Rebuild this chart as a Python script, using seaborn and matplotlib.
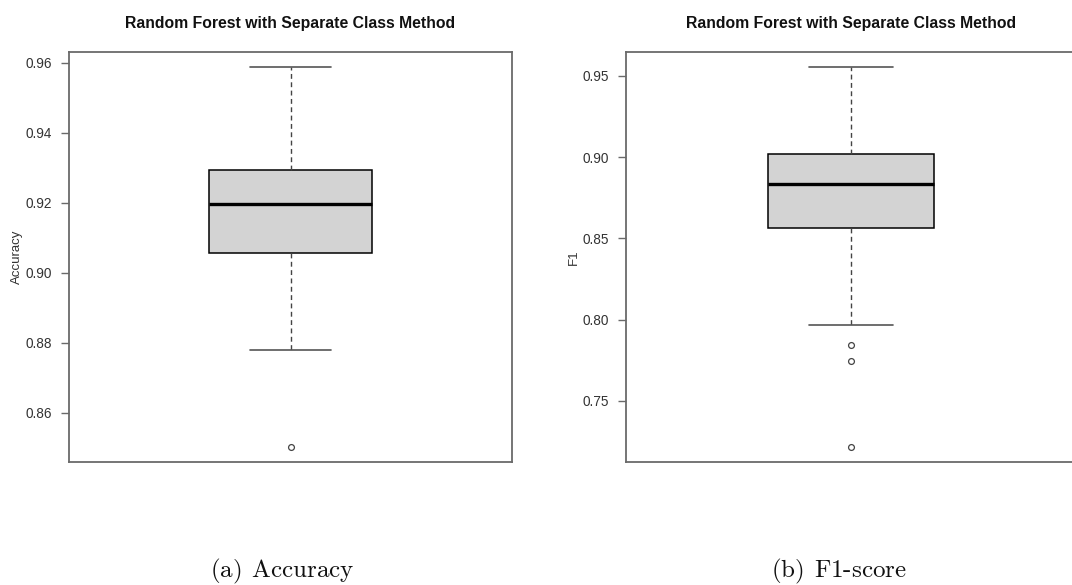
import numpy as np
import pandas as pd
import matplotlib
matplotlib.use("Agg")
import matplotlib.pyplot as plt
import seaborn as sns

# Box-plot summaries (lower whisker, Q1, median, Q3, upper whisker) and outliers
acc_stats = [0.8779, 0.9056, 0.9198, 0.9295, 0.9588]
acc_outliers = [0.8502]
f1_stats = [0.7969, 0.8563, 0.8832, 0.9017, 0.9554]
f1_outliers = [0.7217, 0.7745, 0.7842]

acc_ticks = [0.86, 0.88, 0.90, 0.92, 0.94, 0.96]
f1_ticks = [0.75, 0.80, 0.85, 0.90, 0.95]

title = "Random Forest with Separate Class Method"
captions = [r"$\mathrm{(a)}\;\,\mathrm{Accuracy}$", r"$\mathrm{(b)}\;\,\mathrm{F1\text{-}score}$"]


def sample_from_summary(stats, outliers):
    """Build a sample whose linear-interpolated quartiles and 1.5*IQR
    whiskers reproduce the given five-number summary exactly."""
    lo, q1, med, q3, hi = stats
    below = sorted(outliers) + [lo]
    k = len(below)
    vals = below + [q1] * k + [med] * k + [q3] * k + [hi]
    return pd.DataFrame({"grp": "x", "value": vals})


sns.set_theme(style="white")
plt.rcParams["font.family"] = ["Liberation Sans", "DejaVu Sans"]
plt.rcParams["mathtext.fontset"] = "cm"

fig = plt.figure(figsize=(10.72, 5.85), dpi=100)
W, H = 1072, 585
ax1 = fig.add_axes([69 / W, (H - 462) / H, 443 / W, 410 / H])
ax2 = fig.add_axes([626 / W, (H - 462) / H, 450 / W, 410 / H])

panels = [
    (ax1, acc_stats, acc_outliers, acc_ticks, "Accuracy"),
    (ax2, f1_stats, f1_outliers, f1_ticks, "F1"),
]

frame_col = "#6a6a6a"
text_col = "#333333"

for ax, stats, outl, ticks, ylab in panels:
    df = sample_from_summary(stats, outl)
    sns.boxplot(
        data=df, x="grp", y="value", ax=ax, width=0.37,
        color="#d3d3d3", linecolor="black", linewidth=1.1,
        boxprops=dict(facecolor="#d3d3d3", edgecolor="black", linewidth=1.1),
        medianprops=dict(color="black", linewidth=2.4),
        whiskerprops=dict(color="#444444", linewidth=1.0, linestyle=(0, (3.5, 2.5))),
        capprops=dict(color="#555555", linewidth=1.2),
        flierprops=dict(marker="o", markersize=4.2, markerfacecolor="none",
                        markeredgecolor="#444444", markeredgewidth=0.9),
    )
    lo = min(outl + stats)
    hi = max(outl + stats)
    pad = 0.04 * (hi - lo)
    ax.set_ylim(lo - pad, hi + pad)
    ax.set_xlim(-0.5, 0.5)
    ax.set_yticks(ticks)
    ax.set_yticklabels([f"{t:.2f}" for t in ticks])
    ax.set_xticks([])
    ax.set_xlabel("")
    ax.set_ylabel(ylab, fontsize=9.5, color=text_col)
    ax.yaxis.set_label_coords(-46 / (ax.get_position().width * W), 0.5)
    ax.tick_params(axis="y", left=True, length=6, width=1.0, color=frame_col,
                   labelsize=9.8, labelcolor=text_col, pad=6)
    for s in ax.spines.values():
        s.set_color(frame_col)
        s.set_linewidth(1.3)
    ax.set_title(title, fontsize=11.3, fontweight="bold", color="#111111", pad=17.5)

fig.text(282 / W, (H - 577) / H, captions[0], ha="center", va="baseline",
         fontsize=18, color="#111111")
fig.text(839 / W, (H - 577) / H, captions[1], ha="center", va="baseline",
         fontsize=18, color="#111111")

fig.savefig("out.png", dpi=100)
